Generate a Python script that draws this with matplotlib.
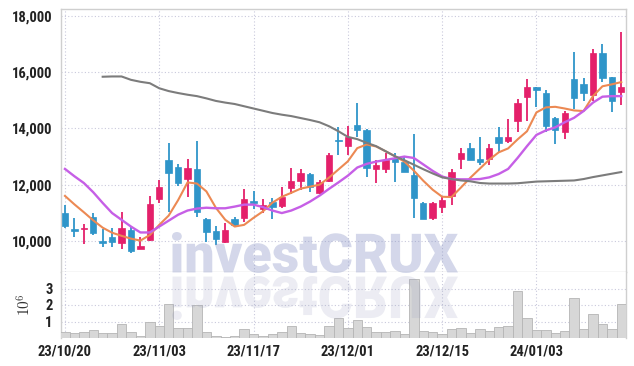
import matplotlib
matplotlib.use('Agg')
import matplotlib.pyplot as plt
from matplotlib import font_manager
from matplotlib.font_manager import FontProperties
from matplotlib.textpath import TextPath
from matplotlib.patches import PathPatch
from matplotlib.transforms import Affine2D, IdentityTransform
import numpy as np

# 일봉 데이터
opens = [11000, 10430, 10430, 10860, 9980, 10140, 9930, 10390, 9710, 10040,
         11500, 12860, 12640, 12210, 12540, 10790, 10360, 9960, 10790, 10820,
         11390, 11140, 11390, 11250, 11890, 12140, 12390, 11710, 12140, 13570,
         13390, 14110, 13960, 12570, 12540, 12960, 12820, 12360, 11360, 10820,
         11210, 11610, 12930, 13320, 12930, 12930, 13680, 13570, 14250, 15110,
         15460, 15250, 14360, 13860, 15750, 15570, 15180, 16680, 15820, 15290]
highs = [11290, 10820, 10600, 11000, 10430, 10460, 11040, 10500, 10140, 11610,
         12180, 13500, 12750, 12930, 13570, 10820, 10540, 10640, 10860, 11860,
         11790, 11500, 11540, 11930, 12610, 12540, 12430, 12180, 13140, 14040,
         14070, 14890, 13990, 12890, 13140, 13140, 13000, 13820, 11390, 11390,
         11570, 12540, 13320, 13500, 13710, 13430, 14040, 14320, 15040, 15750,
         15460, 15360, 14390, 14610, 16710, 15790, 16820, 17000, 15820, 17430]
lows = [10460, 10140, 9900, 10210, 9790, 9790, 9710, 9570, 9700, 10000,
        11360, 11040, 11960, 11570, 10860, 9960, 9860, 9930, 10540, 10680,
        11140, 11000, 10790, 11180, 11680, 11820, 11750, 11680, 12110, 13070,
        13070, 13680, 12290, 12070, 12430, 12110, 12460, 10820, 10790, 10750,
        11000, 11290, 12570, 12860, 12710, 12710, 13180, 13500, 13860, 14250,
        14750, 13860, 13460, 13610, 14680, 14960, 14960, 15640, 14570, 14820]
closes = [10540, 10360, 10470, 10290, 9930, 9960, 10460, 9640, 9820, 11320,
          11930, 12430, 12070, 12610, 11040, 10320, 10070, 10390, 10570, 11500,
          11360, 11290, 11210, 11570, 12140, 12430, 11930, 12110, 13040, 13540,
          13710, 13930, 12610, 12710, 12890, 12820, 12460, 11540, 10790, 11360,
          11460, 12460, 13110, 12890, 12790, 13320, 13500, 13680, 14890, 15460,
          15360, 14070, 13930, 14540, 15070, 15250, 16680, 15790, 14960, 15460]
volumes = [0.38, 0.28, 0.34, 0.50, 0.28, 0.28, 0.87, 0.34, 0.14, 0.99,
           0.75, 2.08, 0.59, 0.63, 1.98, 0.38, 0.14, 0.08, 0.14, 0.57,
           0.22, 0.14, 0.22, 0.34, 0.75, 0.28, 0.22, 0.16, 0.71, 1.23,
           0.59, 1.07, 0.65, 0.34, 0.34, 0.40, 0.22, 3.60, 0.40, 0.34,
           0.26, 0.53, 0.63, 0.28, 0.53, 0.40, 0.65, 0.71, 2.83, 1.23,
           0.46, 0.46, 0.28, 0.40, 2.44, 0.53, 1.43, 0.83, 0.53, 2.04]
volumes = [v * 1e6 for v in volumes]

# 이동평균선
ma_short = [11600, 11300, 11020, 10730, 10470, 10290, 10180, 10080, 10010, 10210,
            10570, 10900, 11450, 12080, 12040, 11760, 11180, 10750, 10510, 10570,
            10820, 11050, 11360, 11570, 11710, 11860, 11930, 12000, 12250, 12540,
            12830, 13300, 13430, 13360, 13190, 13010, 12820, 12500, 12140, 11820,
            11570, 11560, 11900, 12250, 12570, 12890, 13150, 13290, 13610, 13900,
            14570, 14750, 14770, 14710, 14640, 14620, 15150, 15500, 15570, 15650]
ma_mid = [12560, 12300, 12060, 11730, 11350, 10990, 10750, 10510, 10300, 10300,
          10510, 10720, 10930, 11080, 11150, 11180, 11160, 11160, 11220, 11290,
          11290, 11200, 11080, 10990, 11080, 11220, 11400, 11610, 11850, 12080,
          12320, 12610, 12740, 12820, 12880, 12940, 13000, 12950, 12720, 12490,
          12290, 12200, 12190, 12190, 12200, 12260, 12380, 12560, 12950, 13370,
          13770, 13930, 14040, 14220, 14380, 14620, 14920, 15130, 15150, 15150]
ma_long_start = 4
ma_long = [15840, 15850, 15850, 15730, 15660, 15610, 15430, 15330, 15260, 15200,
           15150, 15070, 14980, 14920, 14870, 14790, 14710, 14630, 14550, 14490,
           14440, 14370, 14300, 14220, 14080, 13900, 13700, 13620, 13490, 13370,
           13190, 13010, 12870, 12710, 12550, 12400, 12260, 12200, 12150, 12120,
           12060, 12040, 12040, 12040, 12050, 12080, 12110, 12120, 12130, 12140,
           12150, 12200, 12270, 12330, 12390, 12450]

date_ticks = [0, 10, 20, 30, 40, 50]
date_labels = ['23/10/20', '23/11/03', '23/11/17', '23/12/01', '23/12/15', '24/01/03']
price_ticks = [10000, 12000, 14000, 16000, 18000]
vol_ticks = [1e6, 2e6, 3e6]

plt.rcParams['mathtext.fontset'] = 'cm'

names = {f.name for f in font_manager.fontManager.ttflist}
label_font = next((n for n in ['Liberation Sans Narrow', 'Roboto Condensed', 'Liberation Sans']
                   if n in names), 'DejaVu Sans')
wm_font = 'Roboto' if 'Roboto' in names else 'DejaVu Sans'

UP = '#e4206a'
DOWN = '#2f95c9'
GRID = '#c9c9dc'
SPINE = '#cfcfcf'

fig = plt.figure(figsize=(6.34, 3.66), dpi=100)
ax = fig.add_axes([61 / 634, 1 - 272 / 366, 565 / 634, 263 / 366])
axv = fig.add_axes([61 / 634, 1 - 338 / 366, 565 / 634, 66 / 366], sharex=ax)

x = np.arange(len(opens))
o = np.array(opens)
c = np.array(closes)
colors = [UP if cc >= oo else DOWN for oo, cc in zip(o, c)]

ax.vlines(x, lows, highs, colors=colors, linewidth=1.3, zorder=3)
body_bottom = np.minimum(o, c)
body_height = np.maximum(np.abs(c - o), 45)
ax.bar(x, body_height, bottom=body_bottom, width=0.68, color=colors, edgecolor=colors,
       linewidth=0.5, zorder=4)

ax.plot(x, ma_short, color='#ec8953', lw=1.5, zorder=5)
ax.plot(x, ma_mid, color='#c65fe6', lw=1.7, zorder=5)
ax.plot(x[ma_long_start:], ma_long, color='#7c7c7c', lw=1.5, zorder=5)

ax.set_xlim(-0.42, 59.5)
ax.set_ylim(8893, 18250)
ax.set_yticks(price_ticks)
ax.set_yticklabels([f'{p:,}' for p in price_ticks])
ax.tick_params(axis='x', labelbottom=False, length=0)
ax.tick_params(axis='y', length=0, pad=6, labelsize=10.5, labelcolor='#222222')

axv.bar(x, volumes, width=1.0, color='#d7d7d7', edgecolor='#b5b5b5', linewidth=0.6, zorder=3)
axv.set_ylim(0, 4e6)
axv.set_yticks(vol_ticks)
axv.set_yticklabels(['1', '2', '3'])
axv.set_xticks(date_ticks)
axv.set_xticklabels(date_labels)
axv.tick_params(axis='both', length=0, labelsize=10.5, labelcolor='#222222')
axv.tick_params(axis='y', pad=6)
axv.tick_params(axis='x', pad=5)
axv.set_ylabel(r'$10^6$', fontsize=11, color='#333333', labelpad=8)

for a in (ax, axv):
    a.set_xticks(date_ticks)
    a.grid(True, color=GRID, linestyle=(0, (1, 2)), linewidth=0.8, zorder=0)
    a.set_axisbelow(True)
    for s in a.spines.values():
        s.set_color(SPINE)
        s.set_linewidth(1.0)
    for lab in a.get_xticklabels() + a.get_yticklabels():
        lab.set_fontfamily(label_font)
        lab.set_fontweight('bold')
axv.spines['top'].set_visible(False)
axv.spines['bottom'].set_visible(False)
ax.spines['bottom'].set_color('#d5d5d5')

# 워터마크 (글자 + 반사)
tp = TextPath((0, 0), 'investCRUX', size=1, prop=FontProperties(family=wm_font, weight='heavy'))
bb = tp.get_extents()
wm_left, wm_width = 172, 286
base = 366 - 273
main_tf = Affine2D().translate(-bb.x0, -bb.y0).scale(wm_width / bb.width, 41 / bb.height).translate(wm_left, base)
refl_tf = Affine2D().translate(-bb.x0, -bb.y0).scale(wm_width / bb.width, -44 / bb.height).translate(wm_left, base - 3)
fig.add_artist(PathPatch(main_tf.transform_path(tp), transform=IdentityTransform(),
                         facecolor='#8e98c8', edgecolor='none', alpha=0.38, zorder=10))
fig.add_artist(PathPatch(refl_tf.transform_path(tp), transform=IdentityTransform(),
                         facecolor='#969bbe', edgecolor='none', alpha=0.18, zorder=10))

fig.savefig('out.png', dpi=100)
